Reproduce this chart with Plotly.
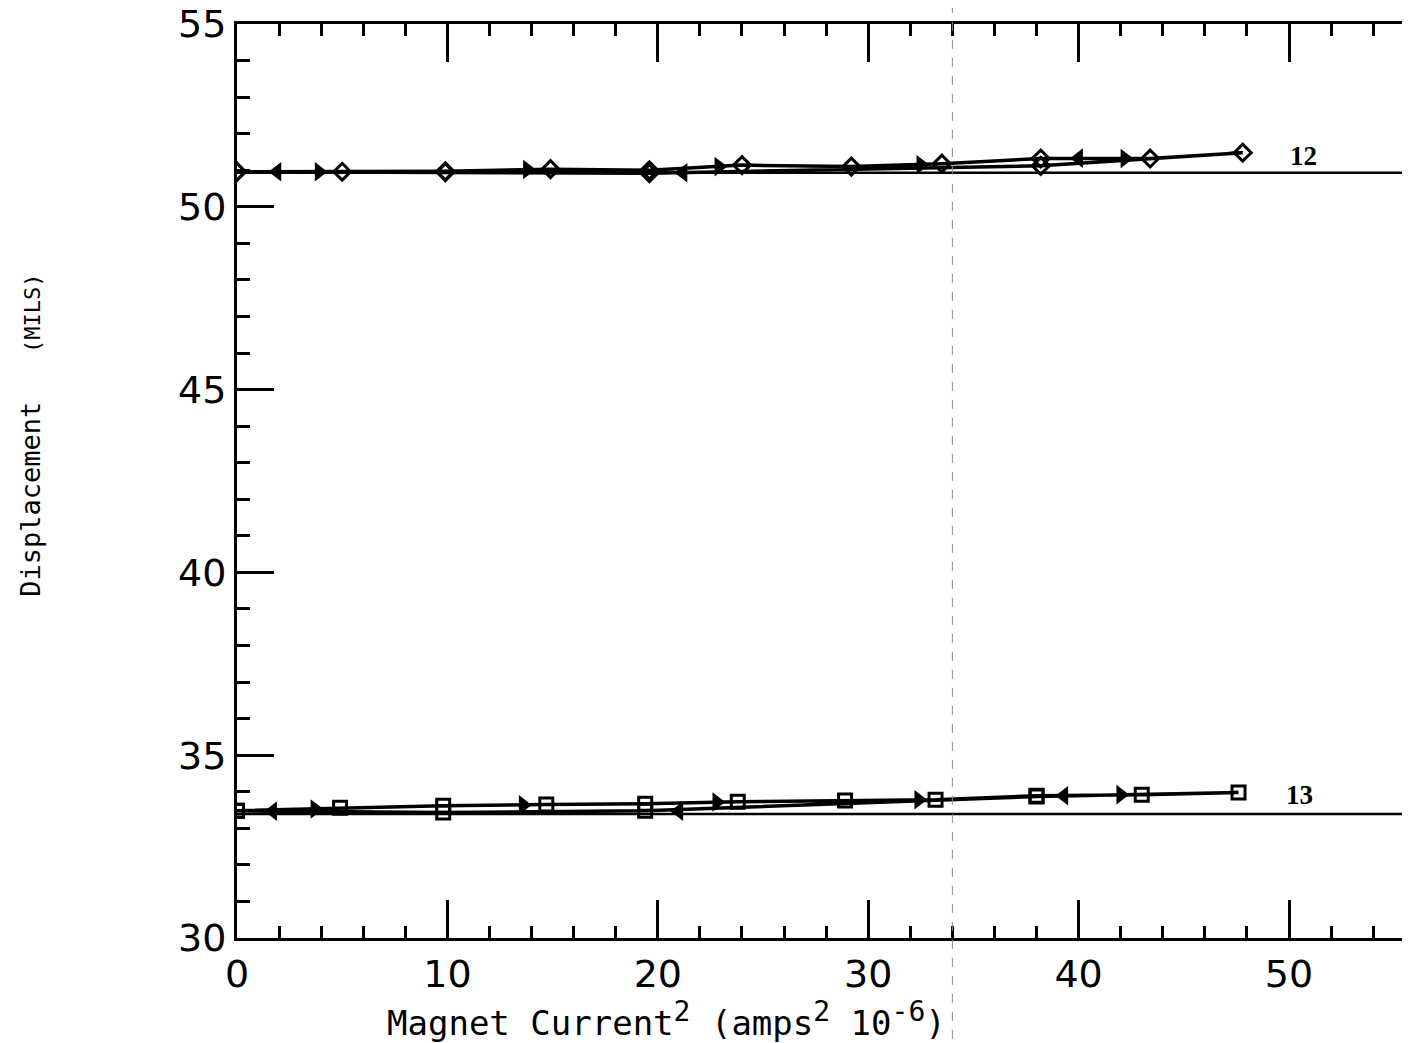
import plotly.graph_objects as go

# ---- data ----
# sensor 12 (diamonds): ascending current then descending
x12 = [0, 5, 9.9, 14.9, 19.6, 24.0, 29.2, 33.5, 38.2, 43.4, 47.8, 38.2, 19.6, 9.9, 0]
y12 = [50.96, 50.96, 50.97, 51.03, 51.00, 51.14, 51.10, 51.18, 51.32, 51.32, 51.48, 51.12, 50.92, 50.95, 50.96]
# sensor 13 (squares)
x13 = [0, 4.9, 9.8, 14.7, 19.4, 23.8, 28.9, 33.2, 38.0, 43.0, 47.6, 38.0, 19.4, 9.8, 0]
y13 = [33.48, 33.56, 33.62, 33.65, 33.67, 33.73, 33.76, 33.78, 33.89, 33.92, 33.98, 33.87, 33.48, 33.43, 33.48]

# direction arrows on the curves (x, y, direction)
arr12_x = [3.9, 13.8, 22.9, 32.5, 42.2, 1.9, 21.2, 40.0]
arr12_y = [50.96, 51.02, 51.10, 51.15, 51.32, 50.96, 50.93, 51.33]
arr12_d = ["right", "right", "right", "right", "right", "left", "left", "left"]
arr13_x = [3.7, 13.6, 22.8, 32.4, 42.0, 1.7, 21.0, 39.3]
arr13_y = [33.53, 33.64, 33.72, 33.78, 33.92, 33.47, 33.47, 33.89]
arr13_d = ["right", "right", "right", "right", "right", "left", "left", "left"]

# zero (reference) levels of each sensor
baselines = [50.93, 33.39]

# curve labels
label_text = ["12", "13"]
label_x = [50.7, 50.5]
label_y = [51.38, 33.92]

x_ticks = [0, 10, 20, 30, 40, 50]
y_ticks = [30, 35, 40, 45, 50, 55]

fig = go.Figure()

for xs, ys, sym in [(x12, y12, "diamond-open"), (x13, y13, "square-open")]:
    fig.add_trace(go.Scatter(
        x=xs, y=ys, mode="lines+markers",
        line=dict(color="black", width=3.5),
        marker=dict(symbol=sym, size=13, color="black", line=dict(width=3, color="black")),
        showlegend=False, hoverinfo="skip"))

for ax_, ay_, ad_ in [(arr12_x, arr12_y, arr12_d), (arr13_x, arr13_y, arr13_d)]:
    fig.add_trace(go.Scatter(
        x=ax_, y=ay_, mode="markers",
        marker=dict(symbol=["triangle-" + d for d in ad_], size=17, color="black",
                    line=dict(width=0)),
        showlegend=False, hoverinfo="skip"))

for b in baselines:
    fig.add_hline(y=b, line=dict(color="black", width=2.5))

for t, lx, ly in zip(label_text, label_x, label_y):
    fig.add_annotation(x=lx, y=ly, text="<b>" + t + "</b>", showarrow=False,
                       font=dict(family="Liberation Serif", size=27, color="black"))

# scan fold line
fig.add_shape(type="line", x0=34.0, x1=34.0, xref="x", y0=-0.13, y1=1.03, yref="paper",
              line=dict(color="#888888", width=1, dash="dash"))

tickfont = dict(family="DejaVu Sans", size=38, color="black")

fig.update_layout(
    width=1402, height=1035,
    margin=dict(l=229, r=0, t=16, b=105, autoexpand=False),
    paper_bgcolor="white", plot_bgcolor="white",
    xaxis=dict(range=[0, 55.75], tickvals=x_ticks, ticks="inside", ticklen=38, tickwidth=2.5,
               tickcolor="black", showline=True, linewidth=3, linecolor="black",
               mirror="ticks", showgrid=False, zeroline=False, tickfont=tickfont,
               ticklabeloverflow="allow", automargin=False,
               minor=dict(dtick=2, tick0=0, ticks="inside", ticklen=12, tickwidth=2.5,
                          tickcolor="black", showgrid=False)),
    yaxis=dict(range=[30, 55], tickvals=y_ticks, ticks="inside", ticklen=37, tickwidth=2.5,
               tickcolor="black", showline=True, linewidth=3, linecolor="black",
               mirror=False, showgrid=False, zeroline=False, tickfont=tickfont,
               ticklabeloverflow="allow", automargin=False,
               minor=dict(dtick=1, tick0=30, ticks="inside", ticklen=13, tickwidth=2.5,
                          tickcolor="black", showgrid=False)),
    yaxis2=dict(range=[30, 55], overlaying="y", side="right", tickvals=y_ticks,
                ticks="inside", ticklen=37, tickwidth=2.5, tickcolor="black",
                showline=False, showgrid=False, zeroline=False, showticklabels=False,
                automargin=False,
                minor=dict(dtick=1, tick0=30, ticks="inside", ticklen=13, tickwidth=2.5,
                           tickcolor="black", showgrid=False)),
)

# axis titles as annotations (off-centre in the original)
sup = "<sup><span style='font-size:28px'>{}</span></sup>"
fig.add_annotation(xref="paper", yref="paper", x=0.126, y=-0.089, xanchor="left", yanchor="middle",
                   text="Magnet Current" + sup.format("2") + " (amps" + sup.format("2") + " 10"
                        + sup.format("-6") + ")",
                   showarrow=False,
                   font=dict(family="DejaVu Sans Mono", size=34, color="black"))
fig.add_annotation(xref="paper", yref="paper", x=-0.176, y=0.55, xanchor="center", yanchor="middle",
                   textangle=-90, showarrow=False,
                   text="Displacement\u00a0\u00a0\u00a0<span style='font-size:22px'>(MILS)</span>",
                   font=dict(family="DejaVu Sans Mono", size=27, color="black"))

fig.write_html("out.html")
